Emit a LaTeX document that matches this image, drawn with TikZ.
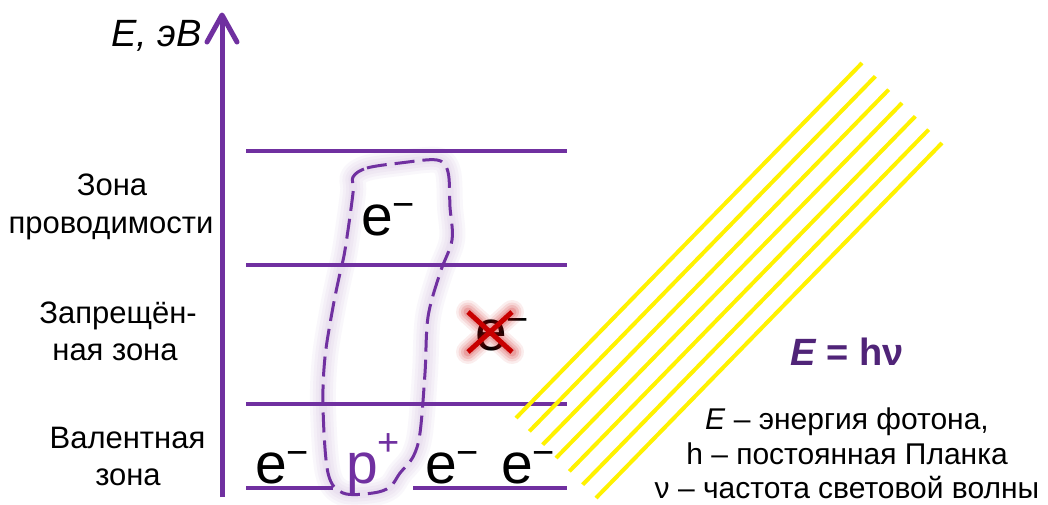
\documentclass[tikz,border=0pt]{standalone}
\usepackage{fontspec}
\setmainfont{Liberation Sans}
\usepackage{graphicx}
\definecolor{vio}{RGB}{112,48,160}
\definecolor{dvio}{RGB}{80,36,120}
\definecolor{xred}{RGB}{200,0,0}
\newcommand{\supm}{\raisebox{18pt}{\fontsize{38}{38}\selectfont −}}
\newcommand{\supp}{\raisebox{28pt}{\fontsize{38}{38}\selectfont +}}
\tikzset{
  lvl/.style={draw=vio, line width=4pt},
  axisline/.style={draw=vio, line width=5pt},
  lbl/.style={font=\fontsize{31}{37}\selectfont, anchor=base, inner sep=0pt},
  big/.style={font=\fontsize{57}{60}\selectfont, anchor=base west, inner sep=0pt},
  ray/.style={draw=yellow, line width=4pt},
  expl/.style={font=\fontsize{30}{36}\selectfont, anchor=base, inner sep=0pt},
  blob/.style={draw=vio, line width=3pt, dash pattern=on 20pt off 8pt, line join=round},
  blobglow/.style={draw=vio, line width=#1, opacity=0.035, line join=round},
  crossline/.style={draw=xred, line width=#1, line cap=round},
}
\begin{document}
\begin{tikzpicture}[x=1pt,y=-1pt]
\useasboundingbox (0,0) rectangle (1048,504);
\fill[white] (0,0) rectangle (1048,504);

% energy axis
\draw[axisline] (222,497) -- (222,17);
\draw[axisline, line cap=round, line join=round] (207,42) -- (222,15) -- (237,42);
\node[font=\fontsize{38}{44}\selectfont\itshape, anchor=base west, inner sep=0pt] (ax) at (111,46) {E, эВ};

% band levels
\draw[lvl] (246,151) -- (567,151);
\draw[lvl] (246,265) -- (567,265);
\draw[lvl] (246,404) -- (567,404);
\draw[lvl] (246,488) -- (567,488);

% left labels
\node[lbl] (c1) at (112,195) {Зона};
\node[lbl] (c2) at (111,233) {проводимости};
\node[lbl] (g1) at (118,323) {Запрещён-};
\node[lbl] (g2) at (115,360) {ная зона};
\node[lbl] (v1) at (127.5,448) {Валентная};
\node[lbl] (v2) at (128,485) {зона};

% photons
\foreach \i in {0,...,6}
  \draw[ray] ({516+13.33*\i},{418+13.33*\i}) -- ({862+13.33*\i},{63+13.33*\i});

% particles
\node[big] (ec) at (361,235) {e\supm};
\node[big] (e1) at (255,483) {e\supm};
\node[big, fill=white, inner xsep=13pt, inner ysep=3pt, text=vio] (p) at (333,483) {p\supp};
\node[big] (e2) at (425,483) {e\supm};
\node[big] (e3) at (501,483) {e\supm};
\node[big] (ex) at (475,350) {e\supm};

% crossed electron
\foreach \w/\o in {24/0.07,19/0.09,14/0.12,9/0.15}
  \draw[crossline=\w pt, opacity=\o] (468,312) -- (512,352) (512,312) -- (468,352);
\draw[crossline=5pt, line cap=butt] (468,312) -- (512,352) (512,312) -- (468,352);

% electron-hole pair outline
\foreach \w in {26,20,14,8}
\draw[blobglow=\w pt] plot[smooth cycle, tension=0.55] coordinates {
 (353,177) (367,168) (400,163) (437,160) (448,172) (450,207) (452,240) (440,273)
 (428,317) (425,373) (420,433) (413,457) (400,473) (390,487) (373,493) (343,493)
 (328,473) (323,407) (325,357) (333,307) (340,273) (345,250) (353,193)};
\draw[blob] plot[smooth cycle, tension=0.55] coordinates {
 (353,177) (367,168) (400,163) (437,160) (448,172) (450,207) (452,240) (440,273)
 (428,317) (425,373) (420,433) (413,457) (400,473) (390,487) (373,493) (343,493)
 (328,473) (323,407) (325,357) (333,307) (340,273) (345,250) (353,193)};

% formula and explanation
\node[font=\fontsize{38}{44}\selectfont\bfseries, text=dvio, anchor=base, inner sep=0pt] (f) at (847,365) {\textit{E} = hν};
\node[expl] (t1) at (847,429) {\textit{E} – энергия фотона,};
\node[expl] (t2) at (847,464) {h – постоянная Планка};
\node[expl] (t3) at (847,498) {ν – частота световой волны};
\end{tikzpicture}
\end{document}
